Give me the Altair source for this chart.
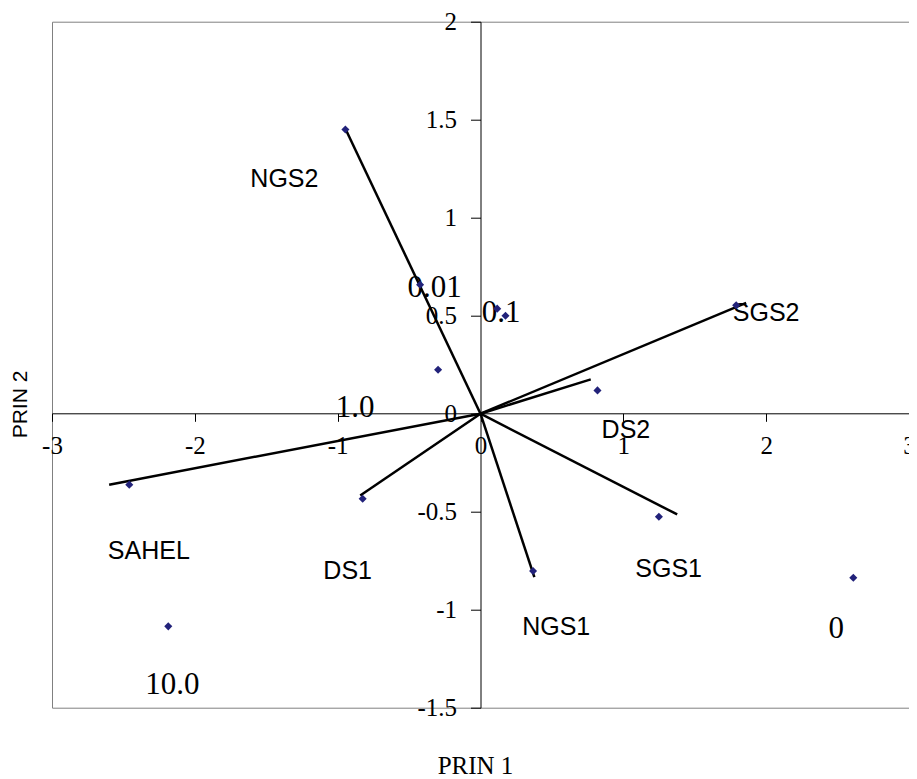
import altair as alt
import pandas as pd

# Loading vectors (lines drawn from the origin)
vec_names = ["NGS2", "SGS2", "DS2", "SGS1", "NGS1", "SAHEL", "DS1"]
vec_x = [-0.95, 1.86, 0.772, 1.377, 0.377, -2.60, -0.842]
vec_y = [1.46, 0.565, 0.175, -0.514, -0.834, -0.362, -0.417]

# Score points
score_x = [-0.946, -0.423, -0.297, 0.117, 0.175, 0.819, 1.79, 1.249, 0.368, 2.61, -2.459, -0.825, -2.186]
score_y = [1.45, 0.658, 0.224, 0.536, 0.50, 0.119, 0.553, -0.526, -0.803, -0.837, -0.362, -0.434, -1.085]

# Variable name labels
var_labels = ["NGS2", "SGS2", "DS2", "SGS1", "NGS1", "SAHEL", "DS1"]
var_label_x = [-1.373, 2.0, 1.018, 1.317, 0.530, -2.322, -0.930]
var_label_y = [1.200, 0.514, -0.085, -0.794, -1.087, -0.702, -0.805]

# Level labels
level_labels = ["0.01", "0.1", "1.0", "10.0", "0"]
level_x = [-0.321, 0.144, -0.878, -2.157, 2.491]
level_y = [0.639, 0.512, 0.027, -1.386, -1.101]

x_ticks = [-3, -2, -1, 0, 1, 2, 3]
y_ticks = [-1.5, -1, -0.5, 0, 0.5, 1, 1.5, 2]

vec_df = pd.DataFrame({"name": vec_names, "ox": [0.0] * len(vec_names), "oy": [0.0] * len(vec_names),
                       "x": vec_x, "y": vec_y})
score_df = pd.DataFrame({"x": score_x, "y": score_y})
var_df = pd.DataFrame({"label": var_labels, "x": var_label_x, "y": var_label_y})
lev_df = pd.DataFrame({"label": level_labels, "x": level_x, "y": level_y})

xs = alt.Scale(domain=[-3, 3], nice=False, zero=False)
ys = alt.Scale(domain=[-1.5, 2], nice=False, zero=False)

W, H = 857, 686

xaxis = alt.Axis(values=x_ticks, offset=-294.4, tickSize=8, labelPadding=12,
                 labelFont="Liberation Serif", labelFontSize=25, labelColor="black",
                 domainColor="black", tickColor="black", domainWidth=1, tickWidth=1,
                 grid=False, labelExpr="toString(datum.value)", labelAlign="center",
                 labelBaseline="top", labelFlush=False, labelOverlap=False,
                 title="PRIN 1", titleFont="Liberation Serif", titleFontSize=25,
                 titleFontWeight="normal", titleColor="black", titleX=423, titleY=360,
                 titleBaseline="alphabetic", titleAlign="center")
yaxis = alt.Axis(values=y_ticks, offset=-428.5, tickSize=10, labelPadding=14,
                 labelFont="Liberation Serif", labelFontSize=25, labelColor="black",
                 domainColor="black", tickColor="black", domainWidth=1, tickWidth=1,
                 grid=False, labelExpr="toString(datum.value)", labelAlign="right",
                 labelBaseline="middle", labelFlush=False, labelOverlap=False,
                 title="PRIN 2", titleFont="Liberation Sans", titleFontSize=21,
                 titleFontWeight="normal", titleColor="black", titleAngle=270,
                 titleX=-460.5, titleY=382.3, titleAlign="center", titleBaseline="middle")


def X(field):
    return alt.X(field, type="quantitative", scale=xs, axis=xaxis)


def Y(field):
    return alt.Y(field, type="quantitative", scale=ys, axis=yaxis)


var_text = alt.Chart(var_df).mark_text(font="Liberation Sans", fontSize=25, color="black",
                                       align="center", baseline="middle").encode(
    x=X("x"), y=Y("y"), text="label:N")
lev_text = alt.Chart(lev_df).mark_text(font="Liberation Serif", fontSize=31, color="black",
                                       align="center", baseline="middle").encode(
    x=X("x"), y=Y("y"), text="label:N")
rules = alt.Chart(vec_df).mark_rule(color="black", strokeWidth=2.5).encode(
    x=X("ox"), y=Y("oy"), x2="x", y2="y")
points = alt.Chart(score_df).mark_point(shape="diamond", filled=True, size=65,
                                        color="#22227A", opacity=1).encode(
    x=X("x"), y=Y("y"))

chart = alt.layer(var_text, lev_text, rules, points).properties(
    width=W, height=H, autosize="none",
    padding={"left": 44, "top": 13.7, "right": 0, "bottom": 71.3},
    background="white",
).configure_view(stroke="#808080", strokeWidth=1)

chart.save("out.html", embed_options={"renderer": "svg", "actions": False})
